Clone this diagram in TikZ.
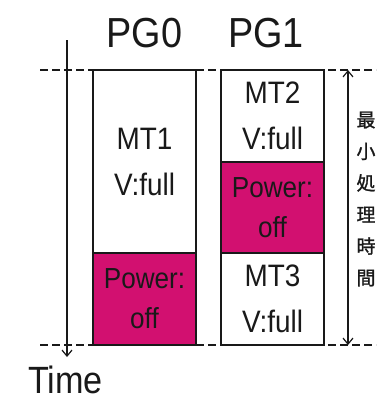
\documentclass[tikz,border=0pt]{standalone}
\usepackage{fontspec}
\setmainfont{Liberation Sans}[FakeStretch=0.9]
\newfontfamily\jpfont{Noto Sans CJK JP}[FakeBold=1.2]
\usetikzlibrary{arrows.meta}
\definecolor{pwr}{RGB}{210,16,112}
\definecolor{ink}{RGB}{25,25,25}
\tikzset{
  box/.style={draw=ink, line width=1.3pt, inner sep=0pt, outer sep=0pt, align=center, text=ink},
  fullbox/.style={box, fill=white, font=\fontsize{31}{46}\selectfont},
  offbox/.style={box, fill=pwr, font=\fontsize{29}{40}\selectfont},
  head/.style={font=\fontsize{42}{46}\selectfont, text=ink, inner sep=0pt},
  guide/.style={draw=ink, line width=1.3pt, dash pattern=on 8pt off 4pt},
  axis/.style={draw=ink, line width=1.3pt},
  barb/.tip={Straight Barb[length=6pt,width=10pt,line width=1.2pt]}
}
\begin{document}
\begin{tikzpicture}[x=1pt,y=-1pt]
\useasboundingbox (0,0) rectangle (379,400);
% headers
\node[head, anchor=base] (pg0) at (144.5,47) {PG0};
\node[head, anchor=base] (pg1) at (266,47) {PG1};
% PG0 column
\node[fullbox, minimum width=103pt, minimum height=183pt] (mt1) at (144.5,161.5) {MT1\\V:full};
\node[offbox, minimum width=103pt, minimum height=92pt] (off0) at (144.5,299) {Power:\\off};
% PG1 column
\node[fullbox, minimum width=103pt, minimum height=92pt] (mt2) at (272.5,116) {MT2\\V:full};
\node[offbox, minimum width=103pt, minimum height=91pt] (off1) at (272.5,207.5) {Power:\\off};
\node[fullbox, minimum width=103pt, minimum height=92pt] (mt3) at (272.5,299) {MT3\\V:full};
% dashed guide lines
\coordinate (gl1) at (40,70);
\coordinate (gr1) at (376,70);
\coordinate (gl2) at (40,345);
\coordinate (gr2) at (376,345);
\draw[guide] (gl1) -- (gr1);
\draw[guide] (gl2) -- (gr2);
% time axis
\coordinate (ttop) at (67,40);
\coordinate (tend) at (67,357);
\draw[axis, -{barb}] (ttop) -- (tend);
\node[font=\fontsize{38}{40}\selectfont, text=ink, anchor=base west, inner sep=0pt] (time) at (28,393) {Time};
% minimum processing time
\coordinate (mtop) at (348,70);
\coordinate (mbot) at (348,345);
\draw[axis, {barb}-{barb}] (mtop) -- (mbot);
\node[font=\jpfont\fontsize{19}{31.6}\selectfont, text=ink, align=center, inner sep=0pt] (minlabel) at (366,199) {最\\小\\処\\理\\時\\間};
\end{tikzpicture}
\end{document}
